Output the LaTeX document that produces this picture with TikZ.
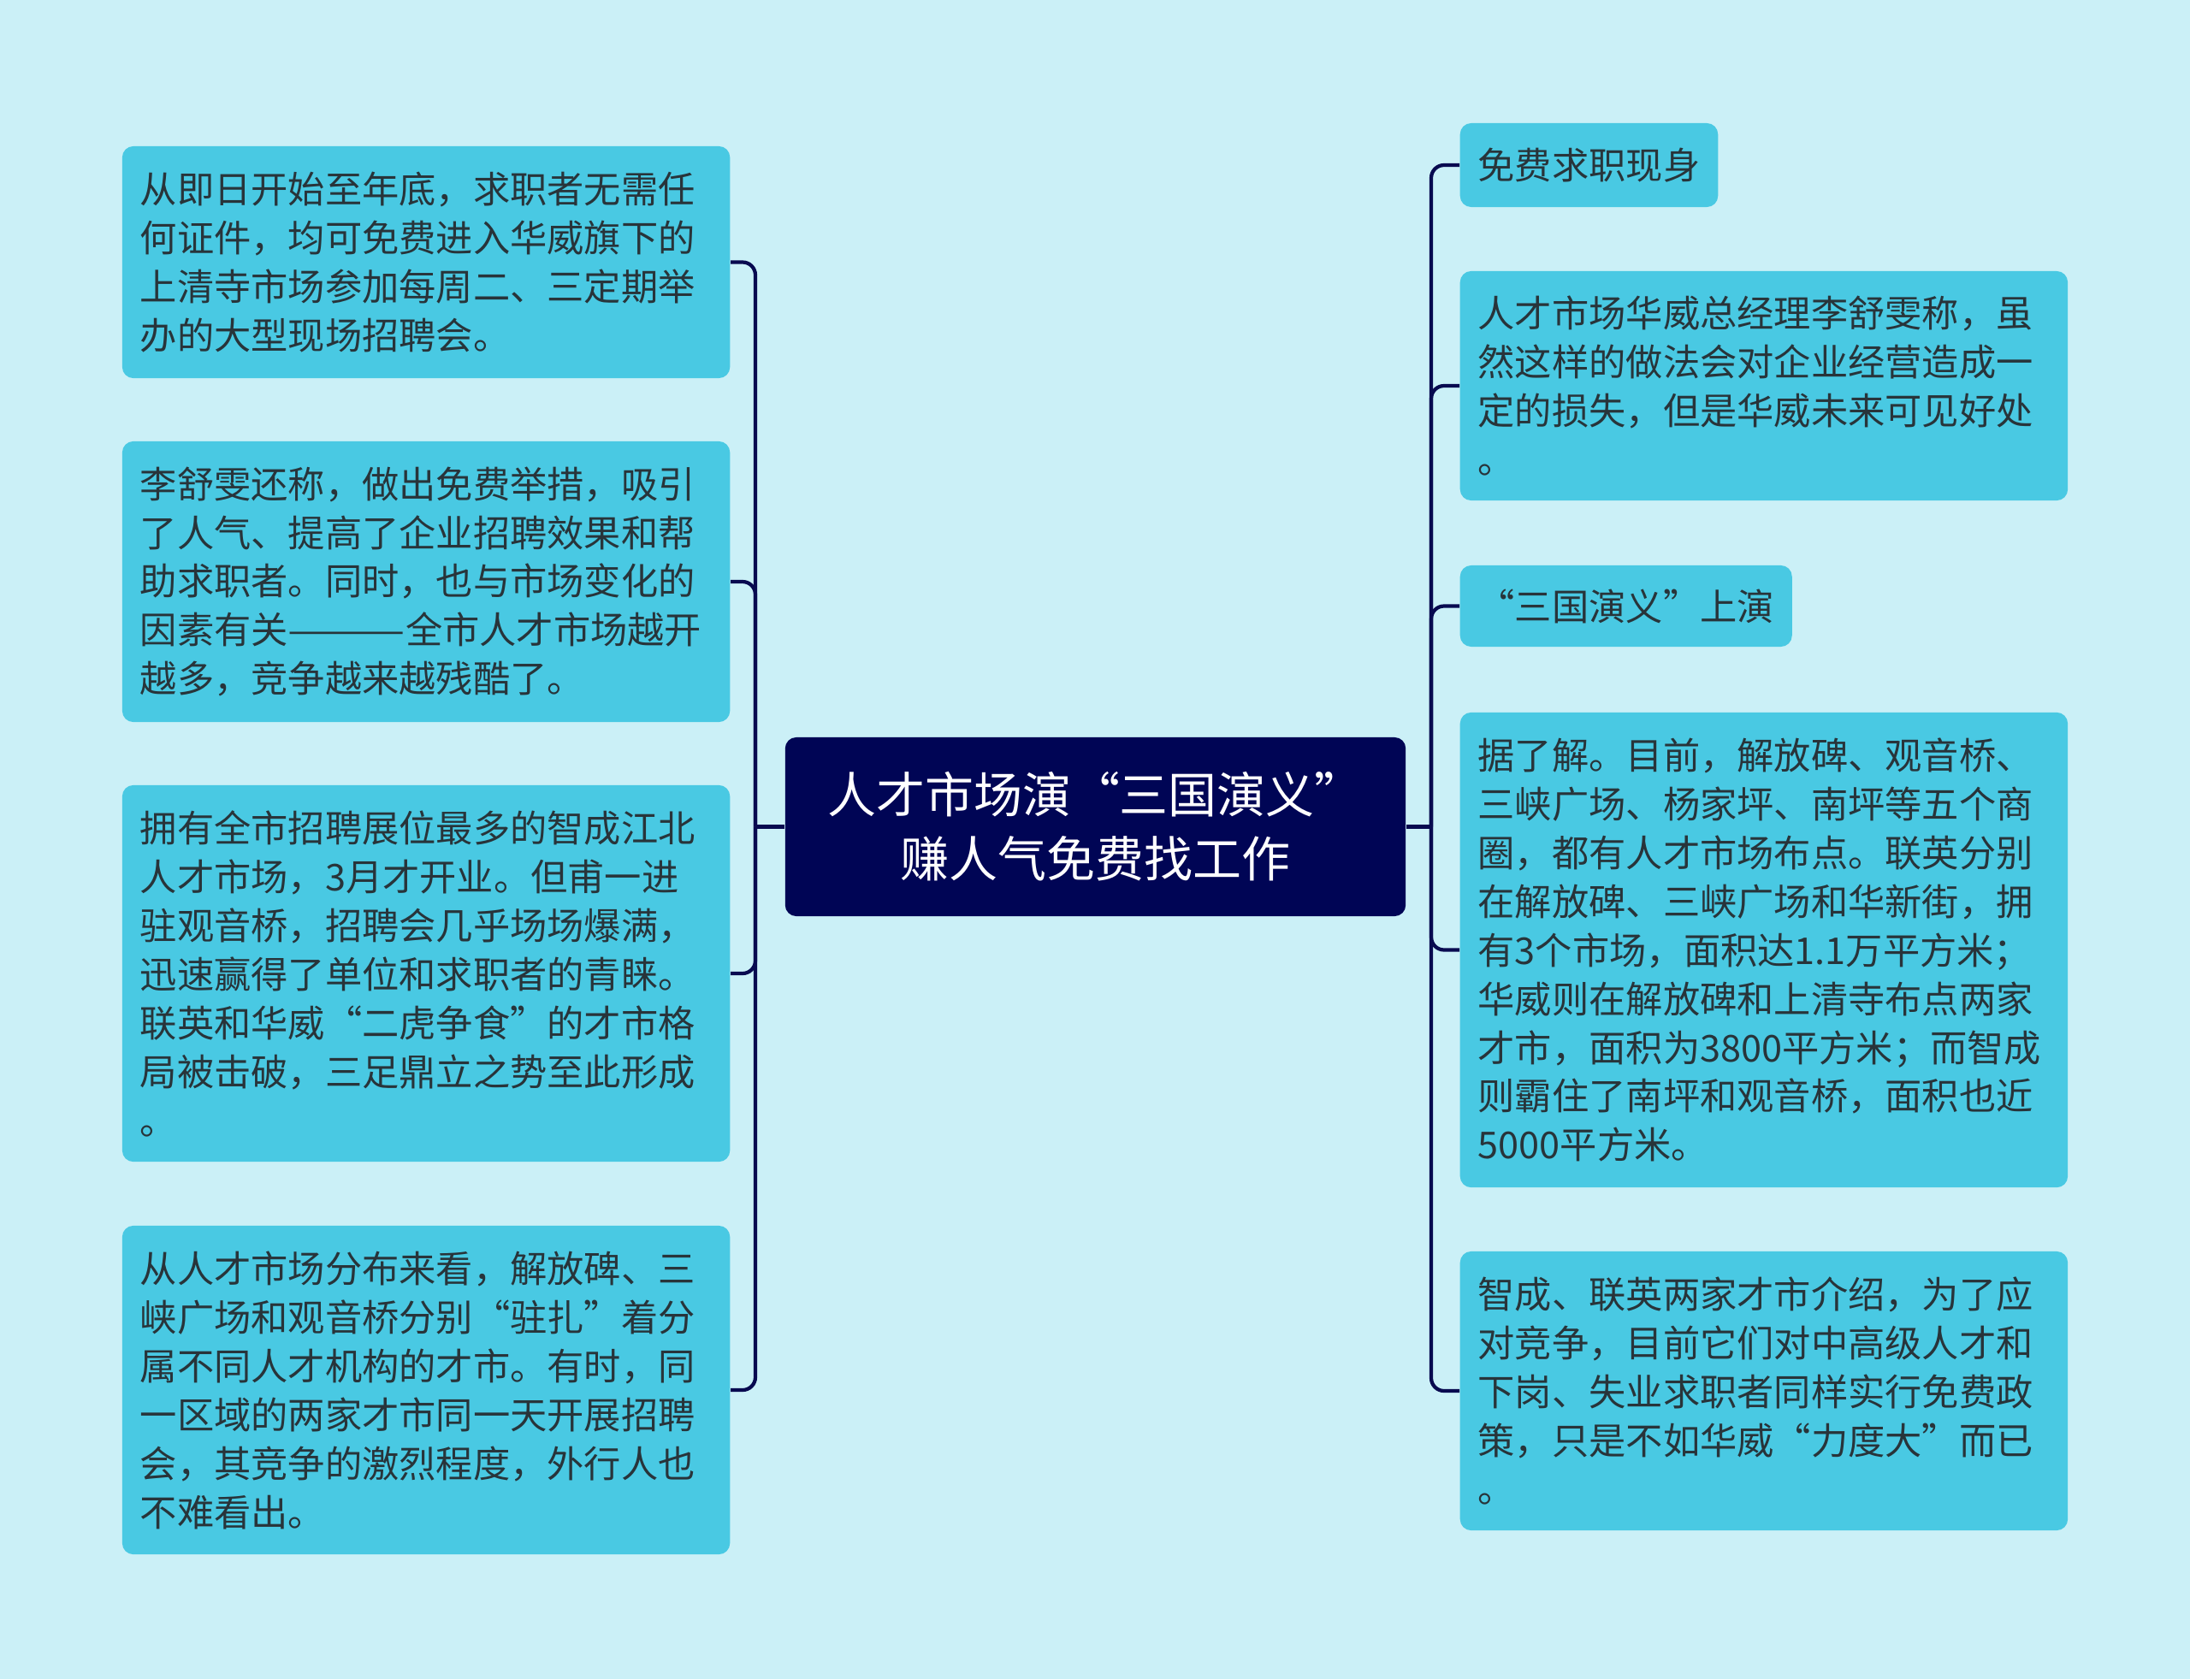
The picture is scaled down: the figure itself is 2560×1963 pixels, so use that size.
\documentclass[tikz,border=0pt]{standalone}
\usepackage{fontspec}
\setmainfont{Noto Sans CJK SC}
\usepackage{xcolor}
\usepackage{graphicx}
\usepackage{tikz}
\usetikzlibrary{positioning, calc}
\setlength{\parindent}{0pt}
\definecolor{mybg}{RGB}{203,240,247}
\definecolor{myleaf}{RGB}{73,201,227}
\definecolor{mynavy}{RGB}{0,5,85}
\definecolor{mylink}{RGB}{8,10,80}
\definecolor{mytext}{RGB}{40,52,58}
\newcommand{\lquo}{\makebox[1em][r]{“}}
\newcommand{\rquo}{\makebox[1em][l]{”}}
\newcommand{\longdash}{\scalebox{1.29}[1]{———}}
\tikzset{
  leaf/.style={rectangle, fill=myleaf, text=mytext, align=left,
    inner xsep=0.21cm, inner ysep=0pt, rounded corners=0.13cm,
    font=\fontsize{12.3}{16.2}\selectfont},
  wideleaf/.style={leaf, text width=6.68cm},
  root/.style={rectangle, fill=mynavy, text=white, align=center,
    minimum width=7.25cm, minimum height=2.09cm, rounded corners=0.13cm,
    font=\fontsize{16.2}{21.3}\selectfont},
  link/.style={line width=1.2pt, color=mylink, rounded corners=0.15cm}
}
\begin{document}
\begin{tikzpicture}[x=0.01cm, y=-0.01cm]
  \fill[mybg] (0,0) rectangle (2560,1963);
  \useasboundingbox (0,0) rectangle (2560,1963);

  % Centre
  \node[root] (root) at (1280.5, 966.5) {人才市场演\lquo 三国演义\rquo\\赚人气免费找工作};

  % Left side
  \node[wideleaf, anchor=east, minimum height=2.71cm] (l1) at (854, 306.5)
    {从即日开始至年底，求职者无需任\\何证件，均可免费进入华威旗下的\\上清寺市场参加每周二、三定期举\\办的大型现场招聘会。};
  \node[wideleaf, anchor=east, minimum height=3.28cm] (l2) at (854, 680)
    {李舒雯还称，做出免费举措，吸引\\了人气、提高了企业招聘效果和帮\\助求职者。同时，也与市场变化的\\因素有关\longdash 全市人才市场越开\\越多，竞争越来越残酷了。};
  \node[wideleaf, anchor=east, minimum height=4.40cm] (l3) at (854, 1138)
    {拥有全市招聘展位最多的智成江北\\人才市场，3月才开业。但甫一进\\驻观音桥，招聘会几乎场场爆满，\\迅速赢得了单位和求职者的青睐。\\联英和华威\lquo 二虎争食\rquo 的才市格\\局被击破，三足鼎立之势至此形成\\。};
  \node[wideleaf, anchor=east, minimum height=3.84cm] (l4) at (854, 1625)
    {从人才市场分布来看，解放碑、三\\峡广场和观音桥分别\lquo 驻扎\rquo 着分\\属不同人才机构的才市。有时，同\\一区域的两家才市同一天开展招聘\\会，其竞争的激烈程度，外行人也\\不难看出。};

  % Right side
  \node[leaf, anchor=west, minimum width=2.99cm, minimum height=0.98cm] (r1) at (1706, 193) {免费求职现身};
  \node[wideleaf, anchor=west, minimum height=2.68cm] (r2) at (1706, 451)
    {人才市场华威总经理李舒雯称，虽\\然这样的做法会对企业经营造成一\\定的损失，但是华威未来可见好处\\。};
  \node[leaf, anchor=west, minimum width=3.84cm, minimum height=0.95cm] (r3) at (1706, 708.5) {\lquo 三国演义\rquo 上演};
  \node[wideleaf, anchor=west, minimum height=5.55cm] (r4) at (1706, 1110.5)
    {据了解。目前，解放碑、观音桥、\\三峡广场、杨家坪、南坪等五个商\\圈，都有人才市场布点。联英分别\\在解放碑、三峡广场和华新街，拥\\有3个市场，面积达1.1万平方米；\\华威则在解放碑和上清寺布点两家\\才市，面积为3800平方米；而智成\\则霸住了南坪和观音桥，面积也近\\5000平方米。};
  \node[wideleaf, anchor=west, minimum height=3.26cm] (r5) at (1706, 1626)
    {智成、联英两家才市介绍，为了应\\对竞争，目前它们对中高级人才和\\下岗、失业求职者同样实行免费政\\策，只是不如华威\lquo 力度大\rquo 而已\\。};

  % Connections
  \coordinate (lfork) at (883, 966.5);
  \coordinate (rfork) at (1673, 966.5);
  \draw[link] (root.west) -- (lfork);
  \draw[link] (root.east) -- (rfork);
  \foreach \n in {l1,l2,l3,l4}
    \draw[link] (lfork) |- (\n.east);
  \foreach \n in {r1,r2,r3,r4,r5}
    \draw[link] (rfork) |- (\n.west);
\end{tikzpicture}
\end{document}
